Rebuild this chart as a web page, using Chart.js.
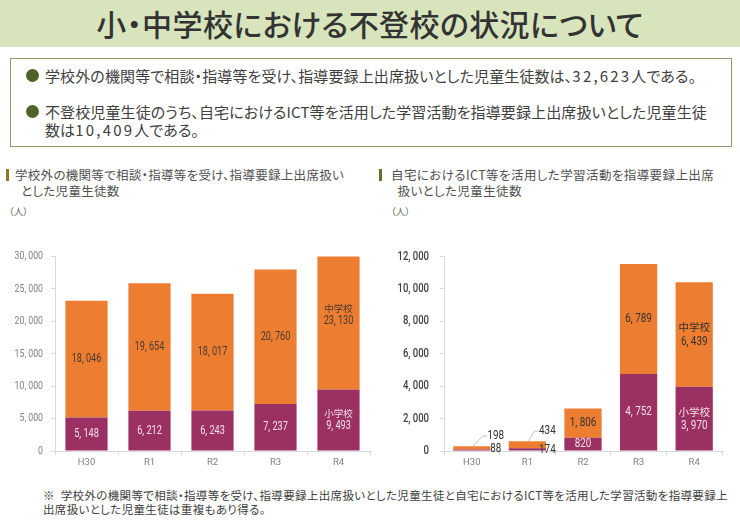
<!DOCTYPE html>
<html lang="ja">
<head>
<meta charset="utf-8">
<style>
  html, body { margin: 0; padding: 0; background: #fff; }
  body { width: 740px; height: 520px; position: relative; overflow: hidden; font-family: "Noto Sans CJK JP", sans-serif; color: #404040; font-feature-settings: "palt"; }
  .abs { position: absolute; white-space: nowrap; }
  #title { left: 0; top: 0; width: 740px; height: 47px; background: #d8e4bc; text-align: center; font-size: 30px; font-weight: 500; line-height: 46px; color: #333; letter-spacing: 0.4px; }
  #box { left: 10px; top: 58px; width: 720px; height: 87px; border: 1px solid #8c9a70; }
  .dot { width: 13px; height: 13px; border-radius: 50%; background: #4f6228; }
  .lead { font-size: 15px; line-height: 18px; color: #404040; letter-spacing: 0.12px; }
  .num { letter-spacing: 2.2px; }
  .head { font-size: 12.5px; line-height: 15.5px; color: #505050; letter-spacing: 0.3px; }
  .bar { width: 3px; height: 12px; }
  .unit { font-size: 9.5px; color: #666; }
  #note { left: 43px; top: 488px; font-size: 11.5px; line-height: 14px; color: #404040; letter-spacing: 0.35px; }
  canvas { position: absolute; }
</style>
</head>
<body>
<div class="abs" id="title">小・中学校における不登校の状況について</div>
<div class="abs" id="box"></div>
<div class="abs dot" style="left:26px;top:69px"></div>
<div class="abs lead" style="left:45px;top:67px">学校外の機関等で相談・指導等を受け、指導要録上出席扱いとした児童生徒数は、<span class="num">32,623</span>人である。</div>
<div class="abs dot" style="left:26px;top:105px"></div>
<div class="abs lead" style="left:45px;top:103px">不登校児童生徒のうち、自宅におけるICT等を活用した学習活動を指導要録上出席扱いとした児童生徒<br>数は<span class="num">10,409</span>人である。</div>

<div class="abs bar" style="left:6px;top:169px;background:#8c7a1e"></div>
<div class="abs head" style="left:15px;top:167px">学校外の機関等で相談・指導等を受け、指導要録上出席扱い<br>&nbsp;&nbsp;とした児童生徒数</div>
<div class="abs unit" style="left:9px;top:204px">（人）</div>

<div class="abs bar" style="left:379px;top:169px;background:#5f7030"></div>
<div class="abs head" style="left:391px;top:167px;letter-spacing:0.42px">自宅におけるICT等を活用した学習活動を指導要録上出席<br>&nbsp;&nbsp;扱いとした児童生徒数</div>
<div class="abs unit" style="left:391px;top:204px">（人）</div>

<canvas id="leftChart" style="left:0;top:245px;width:372px;height:230px"></canvas>
<canvas id="rightChart" style="left:372px;top:245px;width:352px;height:230px"></canvas>

<div class="abs" id="note">※&nbsp;&nbsp;学校外の機関等で相談・指導等を受け、指導要録上出席扱いとした児童生徒と自宅におけるICT等を活用した学習活動を指導要録上<br>出席扱いとした児童生徒は重複もあり得る。</div>

<script src="https://cdn.jsdelivr.net/npm/chart.js@4/dist/chart.umd.min.js"></script>
<script>
var categories = ['H30', 'R1', 'R2', 'R3', 'R4'];

var schoolElementary = [5148, 6212, 6243, 7237, 9493];
var schoolJunior = [18046, 19654, 18017, 20760, 23130];

var homeElementary = [88, 174, 820, 4752, 3970];
var homeJunior = [198, 434, 1806, 6789, 6439];

var elementaryName = '小学校';
var juniorName = '中学校';

var NUMBER_FONT = 'Roboto, sans-serif';
var NAME_FONT = '"Noto Sans CJK JP", sans-serif';
// No condensed face is installed, so numbers get squeezed when they are drawn.
var SQUEEZE = 0.76;

// Numbers in the source have a gap after the comma.
function formatNumber(value) {
  return String(value).replace(/\B(?=(\d{3})+$)/g, ', ');
}

function fillSqueezed(ctx, text, x, y) {
  ctx.save();
  ctx.translate(x, y);
  ctx.scale(SQUEEZE, 1);
  ctx.fillText(text, 0, 0);
  ctx.restore();
}

// Draws the value inside each segment. The last category also names its series.
// Small values listed in options.outside go beside the bar instead.
var segmentLabels = {
  id: 'segmentLabels',
  afterDatasetsDraw: function (chart, args, options) {
    var ctx = chart.ctx;
    ctx.save();
    ctx.textAlign = 'center';
    ctx.textBaseline = 'middle';

    chart.data.datasets.forEach(function (dataset, d) {
      chart.getDatasetMeta(d).data.forEach(function (bar, i) {
        var center = bar.getCenterPoint();
        var outside = options.outside && options.outside[d + ':' + i];
        var text = formatNumber(dataset.data[i]);

        ctx.font = options.fontSize + 'px ' + NUMBER_FONT;
        ctx.fillStyle = d === 0 ? '#f3dfe8' : options.darkText;

        if (outside) {
          ctx.fillStyle = options.darkText;
          var labelX = center.x + outside.dx;
          var labelY = bar.base + outside.dy;
          if (outside.leader) {
            ctx.strokeStyle = '#bfbfbf';
            ctx.lineWidth = 1;
            ctx.beginPath();
            ctx.moveTo(center.x + 1, bar.y);
            ctx.lineTo(labelX - 13, labelY);
            ctx.lineTo(labelX - 9, labelY);
            ctx.stroke();
          }
          fillSqueezed(ctx, text, labelX, labelY);
        } else if (i === categories.length - 1) {
          fillSqueezed(ctx, text, center.x, center.y + options.nameGap);
          ctx.font = options.nameSize + 'px ' + NAME_FONT;
          ctx.fillText(dataset.label, center.x, center.y - options.nameGap);
        } else {
          fillSqueezed(ctx, text, center.x, center.y);
        }
      });
    });
    ctx.restore();
  },
};

function drawStack(canvasId, elementary, junior, settings) {
  return new Chart(document.getElementById(canvasId), {
    type: 'bar',
    data: {
      labels: categories,
      datasets: [
        { label: elementaryName, data: elementary, backgroundColor: '#9b3163' },
        { label: juniorName, data: junior, backgroundColor: '#ed7d31' },
      ],
    },
    options: {
      responsive: false,
      animation: false,
      layout: { padding: { top: 11.5, right: 2, left: 0, bottom: 0 } },
      datasets: { bar: { categoryPercentage: 1, barPercentage: 0.67, borderWidth: 0 } },
      plugins: {
        legend: { display: false },
        tooltip: { enabled: false },
        segmentLabels: {
          fontSize: settings.fontSize,
          nameSize: settings.nameSize,
          nameGap: settings.nameGap,
          darkText: settings.darkText,
          outside: settings.outside,
        },
      },
      scales: {
        x: {
          stacked: true,
          afterFit: function (scale) {
            scale.height = 24;
            scale.paddingLeft = 0;
            scale.paddingRight = 0;
          },
          grid: { drawOnChartArea: false, color: '#d9d9d9', tickLength: 4 },
          border: { color: '#d9d9d9' },
          ticks: { color: '#808080', font: { family: NUMBER_FONT, size: 9.5 }, padding: 2 },
        },
        y: {
          stacked: true,
          min: 0,
          max: settings.max,
          afterFit: function (scale) {
            scale.width = settings.axisWidth;
            scale.paddingTop = 0;
            scale.paddingBottom = 0;
            // Squeeze the tick labels towards their right edge.
            if (!scale.squeezed) {
              var drawLabels = scale.drawLabels;
              scale.squeezed = true;
              scale.drawLabels = function (area) {
                var edge = scale.left + settings.axisWidth - 4 - settings.tickPadding;
                var ctx = scale.ctx;
                ctx.save();
                ctx.translate(edge, 0);
                ctx.scale(SQUEEZE, 1);
                ctx.translate(-edge, 0);
                drawLabels.call(scale, area);
                ctx.restore();
              };
            }
          },
          grid: { drawOnChartArea: false, color: '#d9d9d9', tickLength: 4 },
          border: { color: '#d9d9d9' },
          ticks: {
            stepSize: settings.step,
            color: settings.tickColor,
            padding: settings.tickPadding,
            font: { family: NUMBER_FONT, size: settings.tickSize, weight: settings.tickWeight },
            callback: function (value) { return formatNumber(value); },
          },
        },
      },
    },
    plugins: [segmentLabels],
  });
}

document.querySelectorAll('canvas').forEach(function (canvas) {
  canvas.width = parseInt(canvas.style.width, 10);
  canvas.height = parseInt(canvas.style.height, 10);
});

drawStack('leftChart', schoolElementary, schoolJunior, {
  max: 30000,
  step: 5000,
  axisWidth: 55,
  tickPadding: 8,
  fontSize: 12,
  nameSize: 9.5,
  nameGap: 6.5,
  tickSize: 11.5,
  tickWeight: 400,
  tickColor: '#808080',
  darkText: '#4a3a30',
});

drawStack('rightChart', homeElementary, homeJunior, {
  max: 12000,
  step: 2000,
  axisWidth: 72,
  tickPadding: 11,
  fontSize: 13,
  nameSize: 10.5,
  nameGap: 7,
  tickSize: 12.5,
  tickWeight: 500,
  tickColor: '#404040',
  darkText: '#333',
  outside: {
    '0:0': { dx: 24, dy: -1.7 },
    '1:0': { dx: 24, dy: -13.6, leader: true },
    '0:1': { dx: 20, dy: -1 },
    '1:1': { dx: 20, dy: -17, leader: true },
  },
});
</script>
</body>
</html>
